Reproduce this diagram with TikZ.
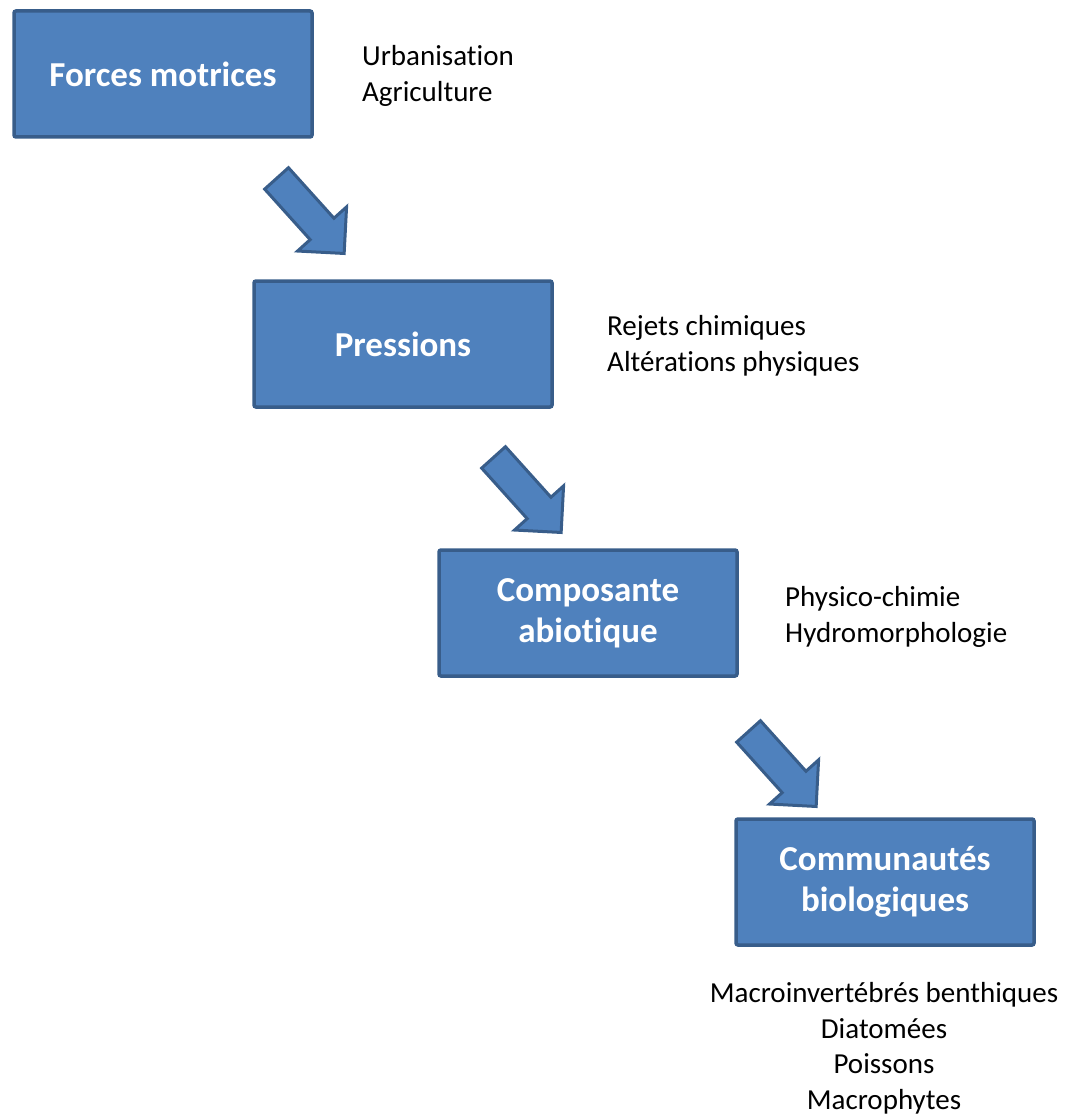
\documentclass[tikz,border=0pt]{standalone}
\usepackage{fontspec}
\setmainfont{Carlito}[Ligatures=NoCommon]
\usetikzlibrary{shapes.arrows}

\definecolor{bleu}{HTML}{4F81BD}
\definecolor{bleufonce}{HTML}{385D8A}

\begin{document}
\begin{tikzpicture}[x=1pt, y=-1pt,
  etape/.style={draw=bleufonce, fill=bleu, line width=3.5pt, rounded corners=2pt,
    minimum width=298pt, minimum height=126pt, text=white, align=center,
    font=\fontsize{35}{41}\selectfont\bfseries},
  fleche/.style={single arrow, draw=bleufonce, fill=bleu, line width=3pt, rotate=-48,
    minimum height=101pt, inner xsep=0pt, inner ysep=14.5pt,
    single arrow head extend=17pt, single arrow tip angle=90},
  legende/.style={inner sep=0pt, font=\fontsize{29}{35.5}\selectfont}]

\useasboundingbox (0,0) rectangle (1071,1115);

% Les étapes

\foreach \x/\y/\t [count=\i] in {163/74/{Forces motrices}, 403/344/{Pressions},
    588/613/{Composante\\abiotique}, 885/882/{Communautés\\biologiques}}
  \node [etape] (etape-\i) at (\x,\y) {\t};

% Les flèches

\foreach \x/\y [count=\i] in {305/210, 522/489, 777/763}
  \node [fleche] (fleche-\i) at (\x,\y) {};

% Les légendes (ancrées sur la dernière ligne)

\node [legende, anchor=base west, align=left] (legende-1) at (362,101.5) {Urbanisation\\Agriculture};
\node [legende, anchor=base west, align=left] (legende-2) at (607,371) {Rejets chimiques\\Altérations physiques};
\node [legende, anchor=base west, align=left] (legende-3) at (785,642) {Physico-chimie\\Hydromorphologie};
\node [legende, anchor=base, align=center] (legende-4) at (884,1109)
  {Macroinvertébrés benthiques\\Diatomées\\Poissons\\Macrophytes};

\end{tikzpicture}
\end{document}
